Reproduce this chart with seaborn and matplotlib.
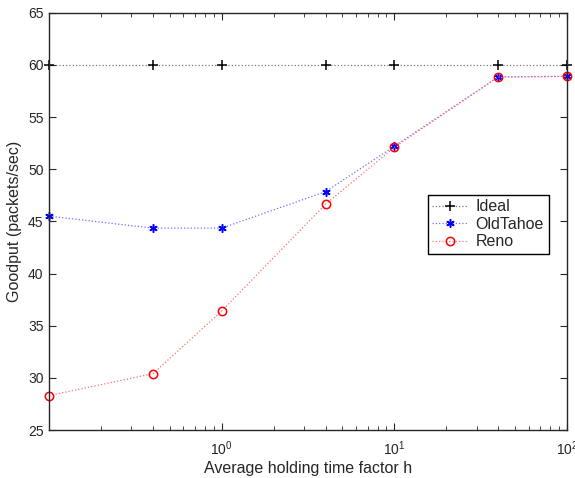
import pandas as pd
import matplotlib
matplotlib.use("Agg")
import matplotlib.pyplot as plt
import seaborn as sns
from matplotlib.ticker import LogLocator, NullFormatter

# values
h_factor = [0.1, 0.4, 1, 4, 10, 40, 100]
ideal = [60, 60, 60, 60, 60, 60, 60]
old_tahoe = [45.5, 44.35, 44.35, 47.85, 52.2, 58.84, 58.9]
reno = [28.3, 30.4, 36.4, 46.65, 52.1, 58.84, 58.9]

series_names = ["Ideal", "OldTahoe", "Reno"]

sns.set_style("ticks")
plt.rcParams['font.family'] = ['Liberation Sans', 'DejaVu Sans']
plt.rcParams['mathtext.fontset'] = 'custom'
plt.rcParams['mathtext.rm'] = 'Liberation Sans'

df = pd.DataFrame({
    "h": h_factor * 3,
    "goodput": ideal + old_tahoe + reno,
    "series": [n for n in series_names for _ in h_factor],
})

fig = plt.figure(figsize=(5.75, 4.78), dpi=100)
ax = fig.add_axes([49 / 575, 1 - 430 / 478, (567 - 49) / 575, (430 - 12.7) / 478])

# line colour is paler than the marker, like the anti-aliased dots in the original
styles = {
    "Ideal": dict(line="#777777", mk="black", marker="+", ms=7, fill=True),
    "OldTahoe": dict(line="#7070ff", mk="blue", marker=(6, 2, 0), ms=6, fill=True),
    "Reno": dict(line="#ff7070", mk="red", marker="o", ms=6, fill=False),
}

for name in series_names:
    st = styles[name]
    sns.lineplot(data=df[df["series"] == name], x="h", y="goodput", ax=ax,
                 label=name, color=st["line"], marker=st["marker"],
                 markersize=st["ms"],
                 markerfacecolor=st["mk"] if st["fill"] else "none",
                 markeredgecolor=st["mk"], markeredgewidth=1.1,
                 linestyle=":", linewidth=0.9, clip_on=False)

ax.set_xscale("log")
ax.set_xlim(0.1, 100)
ax.set_ylim(25, 65)
ax.set_yticks([25, 30, 35, 40, 45, 50, 55, 60, 65])
ax.set_xticks([1, 10, 100])
ax.xaxis.set_minor_locator(LogLocator(base=10, subs=range(2, 10), numticks=20))
ax.xaxis.set_minor_formatter(NullFormatter())

ax.tick_params(which="both", direction="in", top=True, right=True, labelsize=10)
ax.tick_params(which="major", length=5, width=0.8, pad=4)
ax.tick_params(axis="x", which="major", pad=7)
ax.tick_params(which="minor", length=3, width=0.6)
for sp in ax.spines.values():
    sp.set_linewidth(1.0)
    sp.set_visible(True)

ax.set_xlabel("Average holding time factor h", fontsize=11.5, labelpad=2)
ax.set_ylabel("Goodput (packets/sec)", fontsize=11.5, labelpad=4)

leg = ax.legend(loc="upper right", bbox_to_anchor=(0.98, 0.583), fontsize=11.5,
                frameon=True, fancybox=False, edgecolor="black", framealpha=1,
                handlelength=2.2, handletextpad=0.5, borderpad=0.3, labelspacing=0.15)
leg.get_frame().set_linewidth(1.0)

fig.savefig("out.png", dpi=100)
